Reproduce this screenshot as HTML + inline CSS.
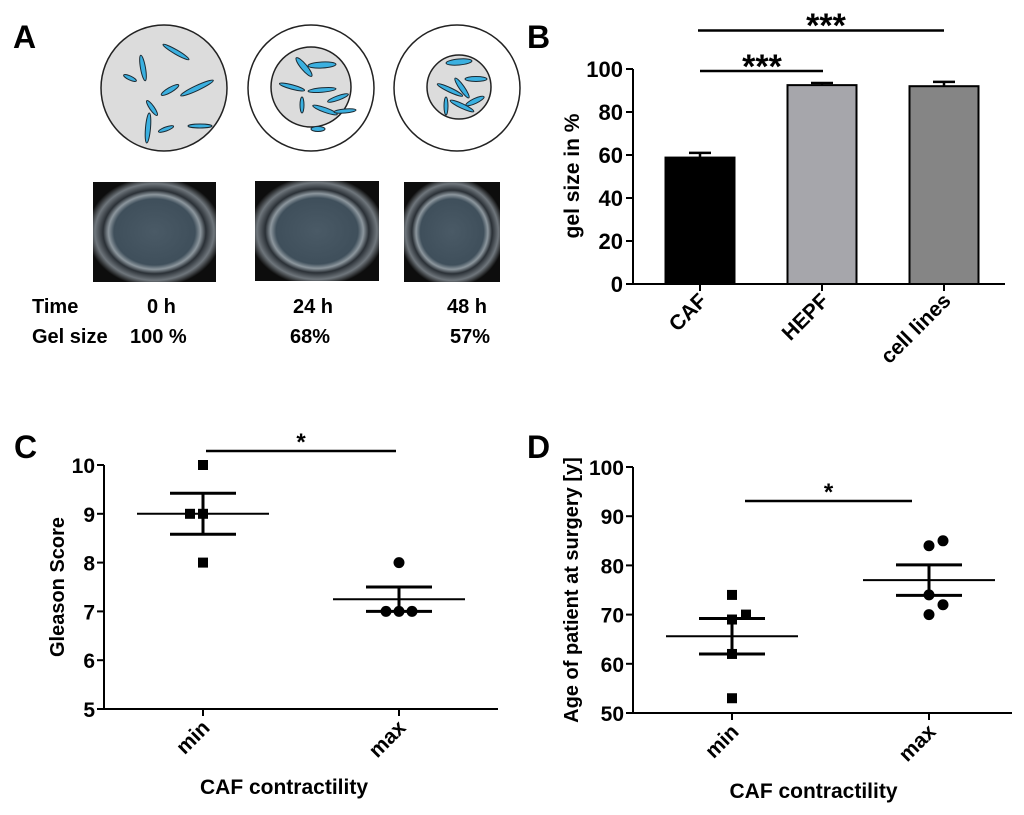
<!DOCTYPE html>
<html><head><meta charset="utf-8">
<style>
html,body{margin:0;padding:0;background:#fff;}
svg{display:block;font-family:"Liberation Sans",Arial,sans-serif;font-weight:bold;}
</style></head>
<body>
<svg id="fig" width="1024" height="815" viewBox="0 0 1024 815">
<defs>
<radialGradient id="well" cx="50%" cy="50%" r="55%">
<stop offset="0" stop-color="#4a5a66"/><stop offset="0.6" stop-color="#3f4f5b"/><stop offset="0.68" stop-color="#8d979e"/><stop offset="0.76" stop-color="#2a3036"/><stop offset="0.88" stop-color="#6f767c"/><stop offset="1" stop-color="#0d0d0d"/>
</radialGradient>
</defs>
<g id="panelA">
<text x="13" y="48" font-size="32">A</text>
<g>
<circle cx="164" cy="88" r="63" fill="#dcdcdc" stroke="#222" stroke-width="1.5"/>
</g>
<g>
<circle cx="311" cy="88" r="63" fill="#fff" stroke="#222" stroke-width="1.5"/>
<circle cx="311" cy="87" r="40" fill="#dcdcdc" stroke="#222" stroke-width="1.5"/>
</g>
<g>
<circle cx="457" cy="88" r="63" fill="#fff" stroke="#222" stroke-width="1.5"/>
<circle cx="459" cy="87" r="32" fill="#dcdcdc" stroke="#222" stroke-width="1.5"/>
</g>
<g id="cells"></g>
<rect x="93" y="182" width="123" height="100" fill="url(#well)"/>
<rect x="255" y="181" width="124" height="100" fill="url(#well)"/>
<rect x="404" y="182" width="96" height="100" fill="url(#well)"/>
<g font-size="20">
<text x="32" y="313">Time</text>
<text x="147" y="313">0 h</text>
<text x="293" y="313">24 h</text>
<text x="447" y="313">48 h</text>
<text x="32" y="343">Gel size</text>
<text x="130" y="343">100 %</text>
<text x="290" y="343">68%</text>
<text x="450" y="343">57%</text>
</g>
</g>
<g id="panelB"></g>
<g id="panelC"></g>
<g id="panelD"></g>
</svg>
<script>
// Panel B data
const bCategories = ["CAF", "HEPF", "cell lines"];
const bValues = [58.8, 92.5, 92.0];
const bErrors = [2.2, 1.0, 2.0];
const bTicks = [0, 20, 40, 60, 80, 100];
// Panel C data
const cCategories = ["min", "max"];
const cPointsMin = [10, 9, 9, 8];
const cPointsMax = [8, 7, 7, 7];
const cMeans = [9, 7.25];
const cSems = [0.42, 0.25];
const cTicks = [5, 6, 7, 8, 9, 10];
// Panel D data
const dCategories = ["min", "max"];
const dPointsMin = [74, 69, 70, 62, 53];
const dPointsMax = [84, 85, 74, 72, 70];
const dMeans = [65.6, 77.0];
const dSems = [3.6, 3.1];
const dTicks = [50, 60, 70, 80, 90, 100];
// horizontal jitter (styling only, px)
const cJitter = [[0, -13, 0, 0], [0, -13, 0, 13]];
const dJitter = [[0, 0, 14, 0, 0], [0, 14, 0, 14, 0]];

const NS = "http://www.w3.org/2000/svg";
function mk(parent, tag, attrs, text) {
  const e = document.createElementNS(NS, tag);
  for (const k in attrs) e.setAttribute(k, attrs[k]);
  if (text !== undefined) e.textContent = text;
  parent.appendChild(e);
  return e;
}

(function () {
  const g = document.getElementById("cells");
  const cells = [
    [143,68,13,2.5,80],[176,52,15,2.2,30],[130,78,7,2,25],[170,90,10,2.5,-30],[197,88,18,2.5,-25],
    [152,108,9,2.3,55],[148,128,15,2.5,95],[166,129,8,2,-20],[200,126,12,2,0],
    [304,67,12,3,50],[322,65,14,3,-3],[292,87,13,2.2,15],[322,90,14,2.2,-5],[338,98,11,2.2,-20],
    [302,105,8,2,90],[325,110,13,2.3,20],[345,111,11,2,-5],[318,129,7,2.5,0],
    [459,62,13,3,-5],[476,79,11,2.5,0],[450,90,14,2.2,25],[462,88,12,2.5,55],[475,101,10,2.5,-25],
    [446,106,9,2,90],[462,106,13,2.3,25]
  ];
  cells.forEach(c => {
    const e = mk(g, "ellipse", {cx:c[0], cy:c[1], rx:c[2], ry:c[3], transform:`rotate(${c[4]} ${c[0]} ${c[1]})`, fill:"#3bb0e0", stroke:"#1b2a33", "stroke-width":1});
    
    
  });
})();

(function () {
  const g = document.getElementById("panelB");
  const x0 = 633, x1 = 1005, yb = 284, yt = 69;
  const y = v => yb - (v - 0) / 100 * (yb - yt);
  const cx = [700, 822, 944];
  const fills = ["#000", "#a6a6ab", "#858585"];
  const bw = 69;
  const lbl = mk(g, "text", {x: 527, y: 48, "font-size": 32}, "B");
  
  
  bCategories.forEach((c, i) => {
    const r = mk(g, "rect", {x: cx[i] - bw/2, y: y(bValues[i]), width: bw, height: yb - y(bValues[i]), fill: fills[i], stroke: "#000", "stroke-width": 2});
    
    
    const e = mk(g, "path", {d: `M${cx[i]} ${y(bValues[i])}V${y(bValues[i]+bErrors[i])}M${cx[i]-11} ${y(bValues[i]+bErrors[i])}H${cx[i]+11}`, stroke: "#000", "stroke-width": 2.5, fill: "none"});
    
    
    const t = mk(g, "path", {d: `M${cx[i]} ${yb}v7`, stroke: "#000", "stroke-width": 2});
    
    
    const tl = mk(g, "text", {x: cx[i] + 8, y: yb + 18, "font-size": 21, "text-anchor": "end", transform: `rotate(-45 ${cx[i]+8} ${yb+18})`}, c);
    
    
  });
  const ax = mk(g, "path", {d: `M${x0} ${yt}V${yb}H${x1}`, stroke: "#000", "stroke-width": 2, fill: "none"});
  
  
  bTicks.forEach(v => {
    const t = mk(g, "path", {d: `M${x0-7} ${y(v)}H${x0}`, stroke: "#000", "stroke-width": 2});
    
    
    const tl = mk(g, "text", {x: x0 - 10, y: y(v) + 8, "font-size": 22, "text-anchor": "end"}, v);
    
    
  });
  const yt2 = mk(g, "text", {x: 579, y: 176, "font-size": 21, "text-anchor": "middle", transform: "rotate(-90 579 176)"}, "gel size in %");
  
  
  const s1 = mk(g, "path", {d: "M700 71H823M698 30.5H944", stroke: "#000", "stroke-width": 2.5});
  
  
  const st1 = mk(g, "text", {x: 762, y: 78, "font-size": 34, "text-anchor": "middle"}, "***");
  
  
  const st2 = mk(g, "text", {x: 826, y: 37, "font-size": 34, "text-anchor": "middle"}, "***");
  
  
})();

function scatter(gid, letter, lx, cfg) {
  const g = document.getElementById(gid);
  const {x0, x1, yb, yt, vmin, vmax, ticks, cats, pts, jit, means, sems, cxs, yTitle, ytx, sig} = cfg;
  const y = v => yb - (v - vmin) / (vmax - vmin) * (yb - yt);
  const l = mk(g, "text", {x: lx, y: 458, "font-size": 32}, letter);
  
  
  const ax = mk(g, "path", {d: `M${x0} ${yt}V${yb}H${x1}`, stroke: "#000", "stroke-width": 2, fill: "none"});
  
  
  ticks.forEach(v => {
    const t = mk(g, "path", {d: `M${x0-7} ${y(v)}H${x0}`, stroke: "#000", "stroke-width": 2});
    
    
    const tl = mk(g, "text", {x: x0 - 9, y: y(v) + 8, "font-size": 21, "text-anchor": "end"}, v);
    
    
  });
  cats.forEach((c, i) => {
    const cx = cxs[i];
    const t = mk(g, "path", {d: `M${cx} ${yb}v7`, stroke: "#000", "stroke-width": 2});
    
    
    const tl = mk(g, "text", {x: cx + 8, y: yb + 20, "font-size": 21, "text-anchor": "end", transform: `rotate(-45 ${cx+8} ${yb+20})`}, c);
    
    
    pts[i].forEach((v, j) => {
      const off = (jit[i] && jit[i][j]) || 0;
      let p;
      if (i === 0) p = mk(g, "rect", {x: cx + off - 5, y: y(v) - 5, width: 10, height: 10, fill: "#000"});
      else p = mk(g, "circle", {cx: cx + off, cy: y(v), r: 5.5, fill: "#000"});
      
      
    });
    const m = mk(g, "path", {d: `M${cx-66} ${y(means[i])}H${cx+66}`, stroke: "#000", "stroke-width": 2});
    
    
    const e = mk(g, "path", {d: `M${cx} ${y(means[i]+sems[i])}V${y(means[i]-sems[i])}M${cx-33} ${y(means[i]+sems[i])}H${cx+33}M${cx-33} ${y(means[i]-sems[i])}H${cx+33}`, stroke: "#000", "stroke-width": 3, fill: "none"});
    
    
  });
  const yt2 = mk(g, "text", {x: ytx, y: (yt + yb) / 2, "font-size": 20, "text-anchor": "middle", transform: `rotate(-90 ${ytx} ${(yt+yb)/2})`}, yTitle);
  
  
  const xt = mk(g, "text", {x: (cxs[0] + cxs[1]) / 2 - 17, y: yb + 85, "font-size": 21, "text-anchor": "middle"}, "CAF contractility");
  
  
  const s = mk(g, "path", {d: `M${sig[0]} ${sig[2]}H${sig[1]}`, stroke: "#000", "stroke-width": 2.5});
  
  
  const st = mk(g, "text", {x: (sig[0] + sig[1]) / 2, y: sig[2] - 1, "font-size": 24, "text-anchor": "middle"}, "*");
  
  
}
scatter("panelC", "C", 14, {x0: 104, x1: 498, yb: 709, yt: 465, vmin: 5, vmax: 10, ticks: cTicks, cats: cCategories,
  pts: [cPointsMin, cPointsMax], jit: cJitter, means: cMeans, sems: cSems, cxs: [203, 399], yTitle: "Gleason Score", ytx: 64, sig: [206, 396, 451]});
scatter("panelD", "D", 527, {x0: 633, x1: 1012, yb: 713, yt: 467, vmin: 50, vmax: 100, ticks: dTicks, cats: dCategories,
  pts: [dPointsMin, dPointsMax], jit: dJitter, means: dMeans, sems: dSems, cxs: [732, 929], yTitle: "Age of patient at surgery [y]", ytx: 578, sig: [745, 912, 501]});
</script>
</body></html>
